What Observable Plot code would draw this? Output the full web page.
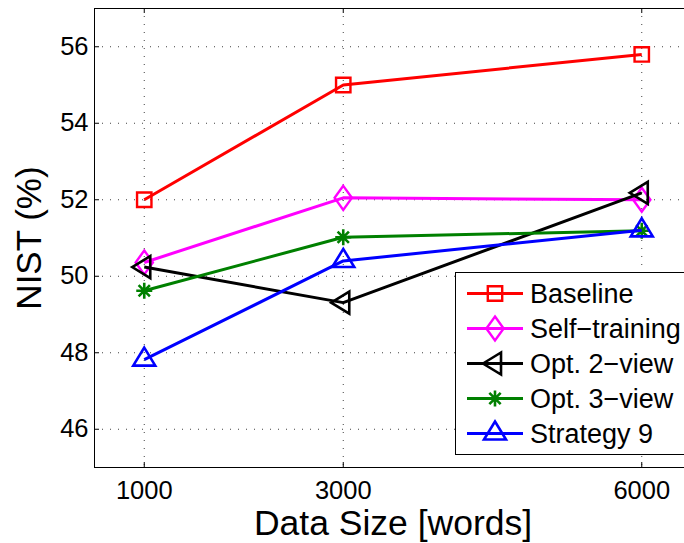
<!DOCTYPE html>
<html>
<head>
<meta charset="utf-8">
<script src="https://cdn.jsdelivr.net/npm/d3@7"></script>
<script src="https://cdn.jsdelivr.net/npm/@observablehq/plot@0.6"></script>
<style>
  html, body { margin: 0; padding: 0; background: #fff; overflow: hidden; }
  #wrap { position: relative; width: 684px; height: 543px; overflow: hidden; background: #fff; }
  #chart svg { max-width: none !important; width: 691px !important; height: 543px !important; display: block; }
  #legend { position: absolute; left: 455px; top: 272px; }
</style>
</head>
<body>
<div id="wrap"><div id="chart"></div><svg id="legend" width="240" height="184"></svg></div>
<script>
// ---- data ----
const sizes = [1000, 3000, 6000];
const seriesNames = ["Baseline", "Self\u2212training", "Opt. 2\u2212view", "Opt. 3\u2212view", "Strategy 9"];
const baseline = [52.0, 55.0, 55.8];
const selfTraining = [50.36, 52.05, 52.0];
const opt2view = [50.24, 49.31, 52.18];
const opt3view = [49.62, 51.02, 51.19];
const strategy9 = [47.82, 50.4, 51.2];
const xTicks = [1000, 3000, 6000];
const yTicks = [46, 48, 50, 52, 54, 56];
const xLabel = "Data Size [words]";
const yLabel = "NIST (%)";

// ---- styles ----
const colors = ["#ff0000", "#ff00ff", "#000000", "#008000", "#0000ff"];
const rad = (s) => Math.sqrt(s / Math.PI);
const symSquare = {draw(c, s) { const r = rad(s); c.rect(-r, -r, 2 * r, 2 * r); }};
const symDiamond = {draw(c, s) { const r = rad(s), w = 0.72 * r; c.moveTo(0, -r); c.lineTo(w, 0); c.lineTo(0, r); c.lineTo(-w, 0); c.closePath(); }};
const symTriLeft = {draw(c, s) { const r = rad(s), h = 1.64 * r; c.moveTo(-2 * h / 3, 0); c.lineTo(h / 3, -r); c.lineTo(h / 3, r); c.closePath(); }};
const symTriUp = {draw(c, s) { const r = rad(s), h = 1.64 * r; c.moveTo(0, -2 * h / 3); c.lineTo(r, h / 3); c.lineTo(-r, h / 3); c.closePath(); }};
const symStar = {draw(c, s) { const r = rad(s), d = r * Math.SQRT1_2;
  c.moveTo(-r, 0); c.lineTo(r, 0); c.moveTo(0, -r); c.lineTo(0, r);
  c.moveTo(-d, -d); c.lineTo(d, d); c.moveTo(-d, d); c.lineTo(d, -d); }};
const symbols = [symSquare, symDiamond, symTriLeft, symStar, symTriUp];
const radii = [7.2, 12, 11, 8, 11];
const markerWidth = [2.4, 2.4, 2.6, 2.6, 2.6];

const values = [baseline, selfTraining, opt2view, opt3view, strategy9];
const rows = [];
values.forEach((vals, i) => sizes.forEach((x, j) => rows.push({series: seriesNames[i], x, y: vals[j]})));

const W = 691, H = 543, mL = 94, mT = 8, mR = 0, mB = 76;
const plotH = H - mT - mB, plotW = W - mL - mR;
const font = "'Liberation Sans', Arial, Helvetica, sans-serif";

const seriesMarks = [];
seriesNames.forEach((name, i) => {
  const d = rows.filter(r => r.series === name);
  seriesMarks.push(Plot.line(d, {x: "x", y: "y", stroke: colors[i], strokeWidth: 3, strokeLinejoin: "round", strokeLinecap: "butt"}));
  seriesMarks.push(Plot.dot(d, {x: "x", y: "y", symbol: symbols[i], r: radii[i], stroke: colors[i], fill: "none", strokeWidth: markerWidth[i]}));
});

const grid = {stroke: "#000", strokeOpacity: 0.75, strokeWidth: 1, strokeDasharray: "1,7"};

const chart = Plot.plot({
  width: W, height: H,
  marginLeft: mL, marginTop: mT, marginRight: mR, marginBottom: mB,
  style: {fontFamily: font, background: "#fff", color: "#000", overflow: "visible", maxWidth: "none"},
  x: {domain: [500, 6500]},
  y: {domain: [45, 57]},
  marks: [
    Plot.gridX(xTicks, grid),
    Plot.gridY(yTicks, grid),
    Plot.axisX(xTicks, {tickSize: 0, tickPadding: 13, fontSize: 25.5, label: null, tickFormat: d => String(d)}),
    Plot.axisY(yTicks, {tickSize: 0, tickPadding: 6, fontSize: 25.5, label: null}),
    Plot.tickX(xTicks, {x: d => d, insetBottom: plotH - 5, stroke: "#000"}),
    Plot.tickX(xTicks, {x: d => d, insetTop: plotH - 5, stroke: "#000"}),
    Plot.tickY(yTicks, {y: d => d, insetRight: plotW - 5, stroke: "#000"}),
    Plot.frame({stroke: "#000", strokeWidth: 1}),
    ...seriesMarks,
    Plot.text([xLabel], {text: d => d, frameAnchor: "bottom", textAnchor: "middle", lineAnchor: "top", dy: 42, fontSize: 35.5}),
    Plot.text([yLabel], {text: d => d, frameAnchor: "left", textAnchor: "middle", rotate: -90, dx: -65, fontSize: 35})
  ]
});
document.getElementById("chart").appendChild(chart);

// ---- legend (inside the axes, like the original) ----
const lg = d3.select("#legend");
lg.append("rect").attr("x", 0.5).attr("y", 0.5).attr("width", 236).attr("height", 182)
  .attr("fill", "#fff").attr("stroke", "#000").attr("stroke-width", 1);
seriesNames.forEach((name, i) => {
  const cy = 21.5 + i * 35;
  const g = lg.append("g");
  g.append("line").attr("x1", 12).attr("x2", 68).attr("y1", cy).attr("y2", cy)
    .attr("stroke", colors[i]).attr("stroke-width", 3);
  g.append("path").attr("transform", `translate(40,${cy})`)
    .attr("d", d3.symbol(symbols[i], Math.PI * radii[i] * radii[i])())
    .attr("fill", "none").attr("stroke", colors[i]).attr("stroke-width", markerWidth[i]);
  g.append("text").attr("x", 75).attr("y", cy).attr("dy", "0.36em")
    .attr("font-family", font).attr("font-size", 27).attr("fill", "#000").text(name);
});
</script>
</body>
</html>
